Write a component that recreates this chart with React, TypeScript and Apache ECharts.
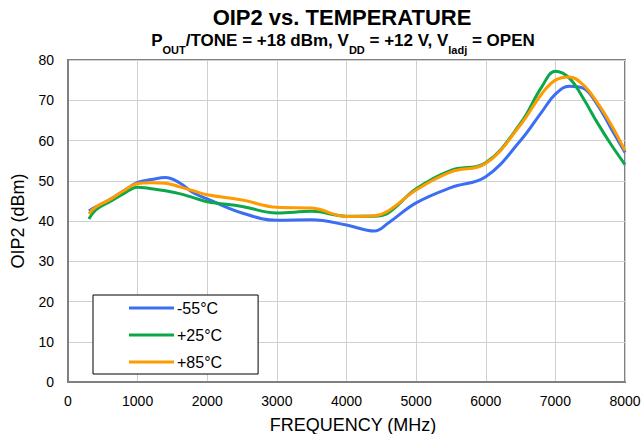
import React, { useEffect, useRef } from "react";
import * as echarts from "echarts";

const freq = [300, 400, 600, 800, 1000, 1200, 1400, 1600, 1800, 2000, 2500, 3000, 3500, 4000, 4400, 4600, 5000, 5500, 6000, 6500, 6800, 7000, 7200, 7400, 7600, 7800, 8000];
const minus55 = [42.5, 43.5, 45.3, 47.5, 49.6, 50.3, 50.8, 49.5, 47, 45.5, 42, 40.2, 40.3, 39, 37.5, 39.5, 44.5, 48.3, 51, 60, 67, 71.5, 73.5, 73, 69, 63, 57];
const plus25 = [40.5, 42.8, 44.8, 46.8, 48.4, 48, 47.5, 46.8, 45.8, 44.8, 43.6, 42, 42.4, 41.2, 41.2, 42, 48, 52.6, 54.5, 64.3, 73.2, 77.2, 75.5, 70.5, 64.5, 59, 54];
const plus85 = [41.8, 43.5, 45.3, 47.5, 49.3, 49.5, 49.4, 48.5, 47.5, 46.5, 45.2, 43.4, 43.2, 41.1, 41.3, 42.5, 47.7, 52.2, 54.3, 63.9, 71.5, 75, 75.8, 73.8, 69.5, 64, 57.5];
const seriesNames = ["-55°C", "+25°C", "+85°C"];
const seriesColors = ["#3b6ef2", "#0aa84a", "#ff9a00"];
const xTicks = { min: 0, max: 8000, interval: 1000 };
const yTicks = { min: 0, max: 80, interval: 10 };

export default function App() {
  const ref = useRef<HTMLDivElement>(null);
  useEffect(() => {
    const chart = echarts.init(ref.current!, null, { renderer: "svg" });
    const all = [minus55, plus25, plus85];
    const ff = "'Liberation Sans', Arial, sans-serif";
    chart.setOption({
      animation: false,
      backgroundColor: "#ffffff",
      textStyle: { fontFamily: ff },
      graphic: [
        {
          type: "text",
          x: 342,
          y: 6,
          style: {
            text: "OIP2 vs. TEMPERATURE",
            font: "bold 22px 'Liberation Sans', Arial, sans-serif",
            fill: "#000",
            textAlign: "center",
          },
        },
        {
          type: "text",
          x: 343,
          y: 32,
          style: {
            text: "{b|P}{s|OUT}{b|/TONE = +18 dBm, V}{s|DD}{b| = +12 V, V}{s|ladj}{b| = OPEN}",
            textAlign: "center",
            fill: "#000",
            rich: {
              b: { fontFamily: ff, fontWeight: "bold", fontSize: 17, lineHeight: 20, verticalAlign: "top", fill: "#000" },
              s: { fontFamily: ff, fontWeight: "bold", fontSize: 11, lineHeight: 13, verticalAlign: "bottom", fill: "#000", padding: [0, 0, -3, 0] },
            },
          },
        },
      ],
      grid: {
        left: 68,
        right: 18,
        top: 60,
        bottom: 52,
        outerBoundsMode: "none",
        containLabel: false,
        show: true,
        borderColor: "#808080",
        borderWidth: 2,
        backgroundColor: "transparent",
      },
      legend: {
        show: true,
        orient: "vertical",
        left: 93,
        top: 295,
        data: seriesNames,
        backgroundColor: "#fff",
        borderColor: "#000",
        borderWidth: 1,
        borderRadius: 0,
        padding: [5, 36, 4, 36],
        itemWidth: 45,
        itemHeight: 3,
        itemGap: 11,
        icon: "rect",
        textStyle: { fontSize: 16, color: "#000", padding: [0, 0, 0, -2], lineHeight: 15, fontFamily: ff },
      },
      xAxis: {
        type: "value",
        ...xTicks,
        name: "FREQUENCY (MHz)",
        nameLocation: "middle",
        nameGap: 34,
        nameTextStyle: { fontSize: 18, color: "#000", padding: [0, 0, 0, 13] },
        axisLine: { show: true, lineStyle: { color: "#808080", width: 2 } },
        axisTick: { show: false },
        axisLabel: { fontSize: 14, color: "#000", margin: 12, formatter: (v: number) => String(v) },
        splitLine: { show: true, lineStyle: { color: "#d0d0d0", width: 1 } },
      },
      yAxis: {
        type: "value",
        ...yTicks,
        name: "OIP2 (dBm)",
        nameLocation: "middle",
        nameGap: 41,
        nameTextStyle: { fontSize: 18, color: "#000" },
        axisLine: { show: true, lineStyle: { color: "#808080", width: 2 } },
        axisTick: { show: false },
        axisLabel: { fontSize: 14, color: "#000", margin: 14 },
        splitLine: { show: true, lineStyle: { color: "#d0d0d0", width: 1 } },
      },
      series: all.map((vals, i) => ({
        name: seriesNames[i],
        type: "line",
        smooth: 0.4,
        showSymbol: false,
        symbol: "none",
        color: seriesColors[i],
        lineStyle: { color: seriesColors[i], width: 3 },
        data: freq.map((f, j) => [f, vals[j]]),
      })),
    });
    return () => chart.dispose();
  }, []);
  return <div ref={ref} style={{ width: 643, height: 434, position: "absolute", left: 0, top: 0 }} />;
}
